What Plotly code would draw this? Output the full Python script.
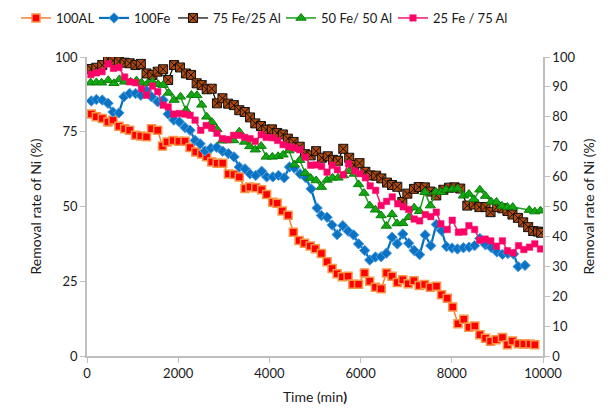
import plotly.graph_objects as go

# Sampling times (min) and Ni removal rate (%) for each electrode configuration
t_al = [95, 205, 335, 460, 570, 700, 825, 935, 1065, 1180, 1305, 1415, 1550, 1655, 1755, 1890,
        2015, 2150, 2260, 2385, 2515, 2625, 2735, 2855, 2975, 3100, 3225, 3340, 3465, 3575, 3700,
        3830, 3940, 4075, 4170, 4280, 4410, 4525, 4650, 4770, 4895, 5005, 5140, 5265, 5375, 5485,
        5600, 5725, 5830, 5955, 6085, 6200, 6325, 6450, 6570, 6690, 6805, 6925, 7045, 7170, 7285,
        7405, 7530, 7665, 7775, 7900, 8020, 8135, 8265, 8375, 8505, 8615, 8740, 8850, 8975, 9110,
        9220, 9330, 9460, 9580, 9715, 9820]
r_al = [80.9, 80.0, 79.4, 78.3, 78.9, 76.8, 76.0, 75.5, 73.8, 73.6, 73.3, 76.0, 75.5, 70.2, 71.6, 72.1,
        71.8, 71.8, 69.7, 68.2, 67.6, 66.6, 64.9, 64.5, 64.5, 60.9, 60.7, 59.9, 56.0, 56.5, 56.3,
        55.6, 54.0, 51.4, 51.1, 48.5, 47.1, 41.4, 38.6, 37.7, 36.8, 35.9, 34.3, 31.5, 29.3, 27.5,
        26.5, 26.7, 24.0, 24.0, 27.8, 25.0, 23.0, 22.5, 27.8, 26.7, 24.6, 25.5, 24.2, 25.2, 23.6,
        23.9, 23.0, 23.3, 20.5, 19.3, 16.4, 10.8, 12.3, 9.6, 10.0, 7.1, 5.9, 4.9, 5.4, 6.2,
        3.8, 5.0, 4.1, 4.0, 4.0, 3.8]

t_fe = [95, 205, 335, 460, 570, 700, 810, 935, 1065, 1180, 1305, 1415, 1550, 1670, 1780, 1905,
        2025, 2150, 2260, 2370, 2480, 2590, 2715, 2845, 2975, 3100, 3225, 3340, 3465, 3575, 3700,
        3830, 3940, 4075, 4200, 4325, 4440, 4545, 4675, 4800, 4915, 5045, 5140, 5265, 5375, 5485,
        5610, 5730, 5845, 5955, 6090, 6200, 6325, 6450, 6565, 6690, 6805, 6925, 7055, 7175, 7295,
        7415, 7540, 7660, 7775, 7885, 8005, 8125, 8255, 8380, 8500, 8615, 8740, 8865, 8990, 9110,
        9230, 9355, 9455, 9605]
r_fe = [85.3, 85.8, 85.6, 84.5, 81.6, 81.3, 86.7, 87.8, 87.8, 87.2, 88.7, 86.7, 85.0, 85.6, 80.9, 78.9,
        78.3, 76.4, 75.5, 72.1, 71.0, 68.6, 69.5, 69.8, 68.5, 67.7, 66.6, 63.2, 62.6, 60.9, 60.4,
        61.8, 59.9, 59.9, 60.4, 59.6, 63.2, 62.9, 60.9, 59.6, 55.9, 49.5, 47.0, 46.4, 43.8, 40.6,
        43.6, 41.7, 40.5, 37.5, 35.3, 32.1, 33.1, 33.2, 34.4, 39.7, 37.5, 40.8, 37.7, 35.3, 33.9,
        40.5, 36.9, 44.0, 41.9, 36.6, 36.1, 35.8, 36.2, 36.4, 36.9, 39.3, 37.2, 36.3, 34.8, 34.0,
        34.3, 34.1, 29.9, 30.3]

t_75 = [95, 205, 335, 460, 570, 700, 825, 935, 1065, 1180, 1305, 1435, 1550, 1670, 1780, 1910,
        2040, 2170, 2280, 2405, 2515, 2625, 2735, 2850, 2970, 3095, 3220, 3340, 3460, 3575, 3690,
        3815, 3930, 4055, 4170, 4295, 4405, 4530, 4665, 4780, 4905, 5025, 5150, 5280, 5395, 5505,
        5620, 5750, 5860, 5975, 6105, 6215, 6340, 6455, 6580, 6690, 6805, 6915, 7025, 7170, 7275,
        7410, 7530, 7660, 7815, 7940, 8060, 8185, 8340, 8485, 8605, 8740, 8850, 8995, 9110, 9220,
        9330, 9450, 9565, 9675, 9785, 9890, 9960]
r_75 = [96.0, 96.4, 97.3, 99.3, 98.8, 98.5, 98.1, 97.9, 97.3, 97.7, 94.5, 94.0, 95.1, 95.9, 92.3, 97.3,
        96.5, 94.5, 94.0, 91.2, 90.6, 89.2, 89.4, 84.5, 86.2, 84.4, 83.9, 82.2, 81.6, 79.8, 77.8,
        76.9, 75.7, 75.8, 74.6, 74.1, 72.7, 71.6, 70.0, 67.5, 67.1, 68.5, 66.3, 66.8, 65.6, 65.3,
        69.3, 66.3, 63.9, 64.5, 61.6, 60.4, 60.3, 59.4, 58.0, 57.2, 56.6, 51.5, 54.3, 55.9, 56.5,
        56.4, 55.0, 53.7, 55.6, 56.3, 56.4, 56.0, 50.3, 50.7, 49.8, 49.8, 48.1, 49.8, 49.4, 48.5,
        47.3, 46.2, 44.7, 43.1, 41.8, 41.6, 41.2]

t_50 = [80, 205, 320, 465, 590, 710, 825, 955, 1085, 1195, 1330, 1435, 1560, 1670, 1790, 1910,
        2050, 2170, 2290, 2410, 2515, 2625, 2740, 2850, 2965, 3095, 3215, 3340, 3455, 3570, 3690,
        3820, 3930, 4065, 4190, 4300, 4430, 4545, 4665, 4785, 4905, 5025, 5140, 5265, 5385, 5505,
        5625, 5750, 5860, 5955, 6075, 6200, 6325, 6450, 6565, 6690, 6800, 6925, 7055, 7175, 7290,
        7410, 7530, 7650, 7760, 7875, 8010, 8125, 8255, 8375, 8485, 8615, 8740, 8865, 8980, 9100,
        9220, 9335, 9700, 9820, 9945]
r_50 = [91.4, 91.5, 91.4, 92.2, 91.2, 92.5, 91.7, 91.7, 92.1, 91.4, 91.2, 91.7, 90.9, 90.6, 88.0, 85.6,
        86.7, 82.2, 87.3, 87.2, 84.0, 80.0, 78.2, 75.8, 72.0, 72.1, 72.1, 75.0, 71.6, 70.1, 69.0,
        70.2, 66.6, 66.6, 66.8, 67.3, 68.7, 64.0, 65.5, 61.2, 59.5, 58.7, 56.5, 58.9, 59.6, 59.6,
        60.4, 61.8, 60.9, 57.4, 54.5, 50.3, 48.9, 47.0, 43.5, 47.4, 44.3, 44.4, 46.4, 49.6, 48.4,
        54.8, 50.3, 54.9, 54.8, 55.6, 55.8, 56.0, 53.6, 54.2, 52.4, 55.6, 53.5, 51.6, 51.5, 50.2,
        49.8, 49.8, 48.8, 48.3, 48.6]

t_25 = [85, 205, 330, 460, 580, 700, 825, 935, 1065, 1195, 1305, 1435, 1550, 1670, 1780, 1905,
        2025, 2150, 2260, 2370, 2495, 2615, 2735, 2850, 2970, 3095, 3215, 3340, 3460, 3575, 3690,
        3820, 3930, 4065, 4180, 4300, 4425, 4545, 4665, 4785, 4905, 5025, 5145, 5265, 5375, 5490,
        5620, 5735, 5870, 5980, 6105, 6210, 6330, 6450, 6570, 6695, 6815, 6935, 7055, 7175, 7295,
        7420, 7540, 7660, 7760, 7900, 8010, 8145, 8265, 8375, 8500, 8615, 8730, 8855, 8980, 9110,
        9220, 9345, 9465, 9580, 9705, 9820, 9945]
r_25 = [94.1, 94.7, 95.1, 97.7, 96.2, 96.5, 93.3, 91.7, 91.4, 89.4, 87.2, 90.3, 88.4, 83.9, 83.3, 80.9,
        81.1, 80.9, 80.5, 78.9, 75.5, 77.1, 76.2, 74.5, 72.7, 72.4, 73.8, 73.8, 73.1, 72.7, 71.8,
        74.0, 73.1, 73.0, 72.1, 70.7, 70.0, 69.6, 69.0, 66.5, 63.8, 63.9, 63.4, 61.5, 63.8, 62.3,
        60.6, 64.3, 61.9, 61.0, 59.6, 56.9, 55.4, 50.3, 51.7, 53.2, 50.9, 49.9, 49.0, 45.8, 45.2,
        47.3, 46.6, 48.1, 44.2, 42.3, 45.4, 41.4, 41.5, 43.6, 42.3, 38.7, 39.1, 38.5, 36.7, 38.5,
        35.2, 34.5, 36.9, 35.6, 36.4, 37.5, 35.8]

FONT = "Lato"
AXIS_GREY = "#BFBFBF"
TEXT = "#1a1a1a"
W, H = 611, 412

fig = go.Figure()

fig.add_trace(go.Scatter(
    x=t_al, y=r_al, name="100AL", mode="lines+markers", legend="legend",
    line=dict(color="#F58233", width=1.5),
    marker=dict(symbol="square", size=8, color="#FF0000",
                line=dict(color="#F79646", width=1.5))))

fig.add_trace(go.Scatter(
    x=t_fe, y=r_fe, name="100Fe", mode="lines+markers", legend="legend2",
    line=dict(color="#0070C0", width=2.2),
    marker=dict(symbol="diamond", size=8, color="#0A73C4",
                line=dict(color="#4F9CE0", width=1))))

fig.add_trace(go.Scatter(
    x=t_75, y=r_75, name="75 Fe/25 Al", mode="lines+markers", legend="legend3",
    line=dict(color="#000000", width=1.2),
    marker=dict(symbol="square-x", size=9, color="#B0480C",
                line=dict(color="#111111", width=1))))

fig.add_trace(go.Scatter(
    x=t_50, y=r_50, name="50 Fe/ 50 Al", mode="lines+markers", legend="legend4",
    line=dict(color="#1E9E1E", width=1.5),
    marker=dict(symbol="triangle-up", size=9, color="#12A812",
                line=dict(color="#0B7E0B", width=1))))

# the secondary (right) axis shares the same 0-100 scale
fig.add_trace(go.Scatter(
    x=t_25, y=r_25, name="25 Fe / 75 Al", mode="lines+markers", yaxis="y2", legend="legend5",
    line=dict(color="#F0166E", width=1.5),
    marker=dict(symbol="square", size=6.5, color="#FF0066",
                line=dict(color="#F0166E", width=0.5))))

axis_common = dict(
    showline=True, linecolor=AXIS_GREY, linewidth=1.5,
    ticks="outside", tickcolor=AXIS_GREY, ticklen=5, tickwidth=1.2,
    showgrid=False, zeroline=False,
    tickfont=dict(family=FONT, size=13, color=TEXT),
)


def legend_box(left_px):
    # one legend per series so each entry sits at its own spot along the top row
    return dict(orientation="h", xref="container", yref="container",
                x=left_px / W, xanchor="left", y=1 - 18 / H, yanchor="middle",
                font=dict(family=FONT, size=13, color=TEXT),
                bgcolor="rgba(0,0,0,0)", borderwidth=0)


fig.update_layout(
    width=W, height=H,
    margin=dict(l=87, r=68, t=57, b=56, autoexpand=False),
    paper_bgcolor="white", plot_bgcolor="white",
    font=dict(family=FONT, size=13, color=TEXT),
    showlegend=True,
    legend=legend_box(16),
    legend2=legend_box(94),
    legend3=legend_box(173),
    legend4=legend_box(281),
    legend5=legend_box(393),
    xaxis=dict(range=[0, 10000], tickvals=[0, 2000, 4000, 6000, 8000, 10000], tickformat="d",
               title=dict(text="Time (min<b>)</b>", font=dict(family=FONT, size=14, color=TEXT),
                          standoff=12),
               **axis_common),
    yaxis=dict(range=[0, 100], tickvals=[0, 25, 50, 75, 100],
               title=dict(text="Removal rate of Ni (%)", font=dict(family=FONT, size=14, color=TEXT),
                          standoff=10),
               **axis_common),
    yaxis2=dict(range=[0, 100], tickvals=list(range(0, 101, 10)), overlaying="y", side="right",
                title=dict(text="Removal rate of Ni (%)", font=dict(family=FONT, size=14, color=TEXT),
                           standoff=10),
                **axis_common),
)

fig.write_html("out.html")
